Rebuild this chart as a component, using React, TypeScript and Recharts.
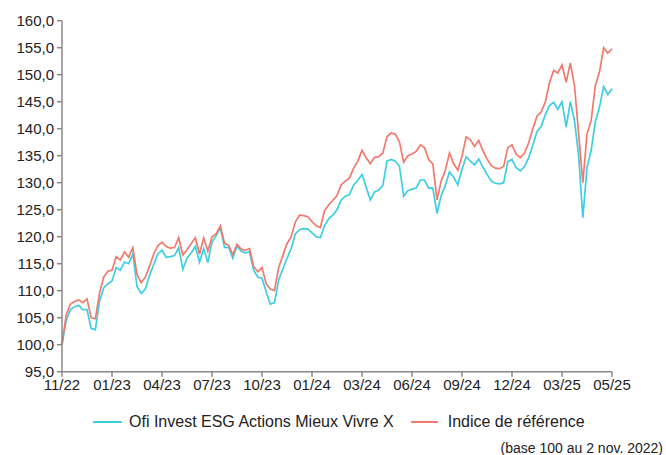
import React from 'react';
import { LineChart, Line, XAxis, YAxis } from 'recharts';

const TICK_LABELS = ['11/22', '01/23', '04/23', '07/23', '10/23', '01/24', '03/24', '06/24', '09/24', '12/24', '03/25', '05/25'];
const TICK_WEEKS = [0, 12, 24, 36, 48, 60, 72, 84, 96, 108, 120, 132];
const Y_TICKS = [95, 100, 105, 110, 115, 120, 125, 130, 135, 140, 145, 150, 155, 160];
const SERIES_NAMES = ['Ofi Invest ESG Actions Mieux Vivre X', 'Indice de référence'];
const FOOTNOTE = '(base 100 au 2 nov. 2022)';

// Weekly values (base 100)
const FUND = [
  100.0, 104.5, 106.5, 107.0, 107.3, 106.5, 106.5, 103.0, 102.8, 108.0,
  110.5, 111.3, 111.8, 114.3, 113.8, 115.3, 115.0, 116.8, 110.8, 109.5,
  110.3, 112.8, 114.8, 116.8, 117.5, 116.2, 116.3, 116.5, 118.0, 114.0,
  116.0, 117.0, 118.2, 115.3, 117.8, 115.2, 119.0, 120.2, 121.7, 118.0,
  118.0, 116.0, 118.3, 117.3, 117.0, 117.2, 113.8, 112.5, 112.3, 109.8,
  107.5, 107.8, 112.0, 114.0, 116.0, 117.8, 120.5, 121.3, 121.5, 121.4,
  120.7, 120.0, 119.8, 122.0, 123.3, 124.0, 125.0, 126.8, 127.5, 127.8,
  129.6, 130.4, 131.5, 129.2, 126.8, 128.3, 128.6, 129.5, 134.0, 134.3,
  134.0, 133.0, 127.5, 128.5, 128.8, 129.0, 130.5, 130.5, 129.0, 129.0,
  124.3, 127.6, 129.5, 132.0, 131.0, 129.6, 132.5, 134.8, 134.0, 133.3,
  134.4, 132.9, 131.6, 130.3, 129.9, 129.8, 130.0, 133.9, 134.3, 132.8,
  132.2, 133.0, 134.6, 137.0, 139.5, 140.4, 142.6, 144.3, 144.9, 143.6,
  145.0, 140.3, 145.0, 141.5, 135.0, 123.5, 132.8, 136.0, 141.3, 144.0,
  147.8, 146.3, 147.4,
];

const INDEX = [
  100.0, 105.5, 107.5, 108.0, 108.3, 107.8, 108.5, 105.0, 104.8, 109.5,
  112.5, 113.6, 113.8, 116.3, 115.7, 117.2, 116.2, 118.0, 113.0, 111.5,
  112.5, 114.5, 116.8, 118.3, 119.0, 118.2, 117.9, 118.0, 119.8, 116.6,
  117.6, 118.7, 119.8, 116.8, 119.8, 117.3, 120.0, 120.5, 122.0, 118.8,
  118.4, 116.7, 118.6, 117.7, 117.5, 117.8, 114.5, 113.5, 114.3, 111.3,
  110.3, 110.0, 114.3, 116.5, 118.7, 120.0, 122.7, 124.0, 123.9, 123.7,
  122.8, 122.0, 121.7, 124.8, 125.9, 126.7, 127.6, 129.6, 130.3, 130.9,
  132.7, 134.0, 136.0, 134.6, 133.5, 134.7, 134.8, 135.5, 138.5, 139.2,
  139.0, 137.5, 133.8, 135.0, 135.3, 135.8, 137.0, 136.5, 134.3, 133.5,
  126.8, 130.3, 132.3, 135.5, 133.5, 132.3, 134.9, 138.5, 138.0, 136.7,
  137.8, 136.0, 134.4, 133.2, 132.7, 132.6, 133.0, 136.5, 137.0, 135.3,
  134.6, 135.5, 137.4, 140.0, 142.3, 143.1, 145.0, 148.5, 150.8, 150.3,
  151.8, 148.6, 152.2, 148.0, 139.0, 130.0, 139.0, 141.5, 148.0, 150.5,
  155.0, 154.0, 154.8,
];

const BLUE = '#3ccfe3';
const RED = '#f07a6d';
const AXIS = '#888888';
const TEXT = '#222222';
const FONT = '"Liberation Sans", Arial, sans-serif';

const data = FUND.map((v, i) => ({ week: i, fund: v, index: INDEX[i] }));

const xLabel = (v: number) => {
  const k = TICK_WEEKS.indexOf(v);
  return k >= 0 ? TICK_LABELS[k] : '';
};
const yLabel = (v: number) => v.toFixed(1).replace('.', ',');

export default function App() {
  return (
    <div style={{ position: 'absolute', left: 0, top: 0, width: 666, height: 455, background: '#fff', fontFamily: FONT }}>
      <LineChart width={666} height={400} data={data} margin={{ top: 20.7, right: 54, bottom: 0, left: 0 }}>
        <XAxis
          type="number"
          dataKey="week"
          domain={[0, 132]}
          ticks={TICK_WEEKS}
          interval={0}
          tickFormatter={xLabel}
          height={28.3}
          tickSize={5}
          tickMargin={3}
          stroke={AXIS}
          strokeWidth={1.5}
          tick={{ fill: TEXT, fontSize: 15, fontFamily: FONT }}
        />
        <YAxis
          type="number"
          domain={[95, 160]}
          ticks={Y_TICKS}
          interval={0}
          tickFormatter={yLabel}
          width={62}
          tickSize={5}
          tickMargin={3}
          stroke={AXIS}
          strokeWidth={1.5}
          tick={{ fill: TEXT, fontSize: 15, fontFamily: FONT }}
        />
        <Line type="linear" dataKey="fund" stroke={BLUE} strokeWidth={1.7} dot={false} isAnimationActive={false} />
        <Line type="linear" dataKey="index" stroke={RED} strokeWidth={1.7} dot={false} isAnimationActive={false} />
      </LineChart>
      <div style={{ position: 'absolute', left: 93, top: 412, height: 20, display: 'flex', alignItems: 'center', fontSize: 16, color: TEXT, whiteSpace: 'nowrap' }}>
        <span style={{ display: 'inline-block', width: 29, height: 2.5, background: BLUE, marginRight: 7 }} />
        <span>{SERIES_NAMES[0]}</span>
        <span style={{ display: 'inline-block', width: 27, height: 2.5, background: RED, marginLeft: 17, marginRight: 10 }} />
        <span>{SERIES_NAMES[1]}</span>
      </div>
      <div style={{ position: 'absolute', right: 3, top: 440, fontSize: 14, color: TEXT, whiteSpace: 'nowrap' }}>{FOOTNOTE}</div>
    </div>
  );
}
